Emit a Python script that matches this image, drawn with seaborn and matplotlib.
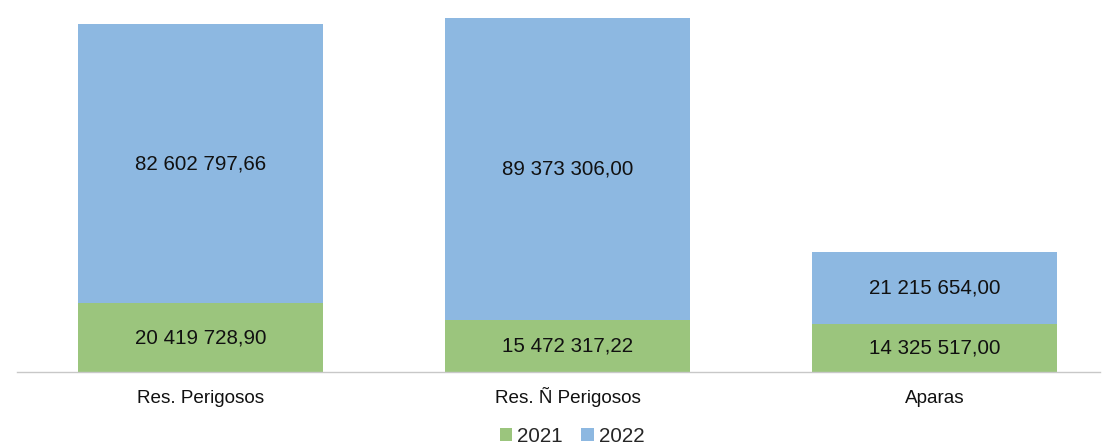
import seaborn as sns
import numpy as np
import pandas as pd
import matplotlib.pyplot as plt

sns.set_style("white")
plt.rcParams['font.family'] = ['Liberation Sans', 'DejaVu Sans']

# data
categories = ["Res. Perigosos", "Res. Ñ Perigosos", "Aparas"]
values_2021 = [20419728.90, 15472317.22, 14325517.00]
values_2022 = [82602797.66, 89373306.00, 21215654.00]
labels_2021 = ["20 419 728,90", "15 472 317,22", "14 325 517,00"]
labels_2022 = ["82 602 797,66", "89 373 306,00", "21 215 654,00"]

green = "#9BC57D"
blue = "#8DB8E1"
fs = 14.8

df = pd.DataFrame({
    "cat": categories,
    "y2021": values_2021,
    "y2022": values_2022,
})
df["total"] = df["y2021"] + df["y2022"]

fig = plt.figure(figsize=(11.04, 4.44), dpi=100)
ax = fig.add_axes([17 / 1104, 72 / 444, 1083 / 1104, 362 / 444])

# stacked: total in blue, then 2021 drawn over it in green
sns.barplot(data=df, x="cat", y="total", color=blue, width=0.667,
            saturation=1, linewidth=0, ax=ax, label="2022")
sns.barplot(data=df, x="cat", y="y2021", color=green, width=0.667,
            saturation=1, linewidth=0, ax=ax, label="2021")

for i, row in df.iterrows():
    ax.text(i, row["y2021"] / 2, labels_2021[i], ha="center", va="center",
            fontsize=fs, color="#111111")
    ax.text(i, row["y2021"] + row["y2022"] / 2, labels_2022[i], ha="center",
            va="center", fontsize=fs, color="#111111")

ax.set_xlim(-0.5, 2.45)
ax.set_ylim(0, 107.2e6)
ax.set_xlabel("")
ax.set_ylabel("")
ax.set_yticks([])
ax.tick_params(axis="x", length=0, pad=22.5, labelsize=13.6, labelcolor="#111111")
for t in ax.get_xticklabels():
    t.set_verticalalignment("baseline")
sns.despine(ax=ax, left=True)
ax.spines["bottom"].set_color("#C8C8C8")
ax.spines["bottom"].set_linewidth(1)

handles, lbls = ax.get_legend_handles_labels()
order = [lbls.index("2021"), lbls.index("2022")]
ax.legend([handles[j] for j in order], [lbls[j] for j in order],
          loc="center", bbox_to_anchor=(572 / 1104, 1 - 436 / 444),
          bbox_transform=fig.transFigure, ncol=2, frameon=False,
          fontsize=fs, handlelength=0.6, handleheight=0.6,
          handletextpad=0.25, columnspacing=0.9)

fig.savefig("out.png", dpi=100)
